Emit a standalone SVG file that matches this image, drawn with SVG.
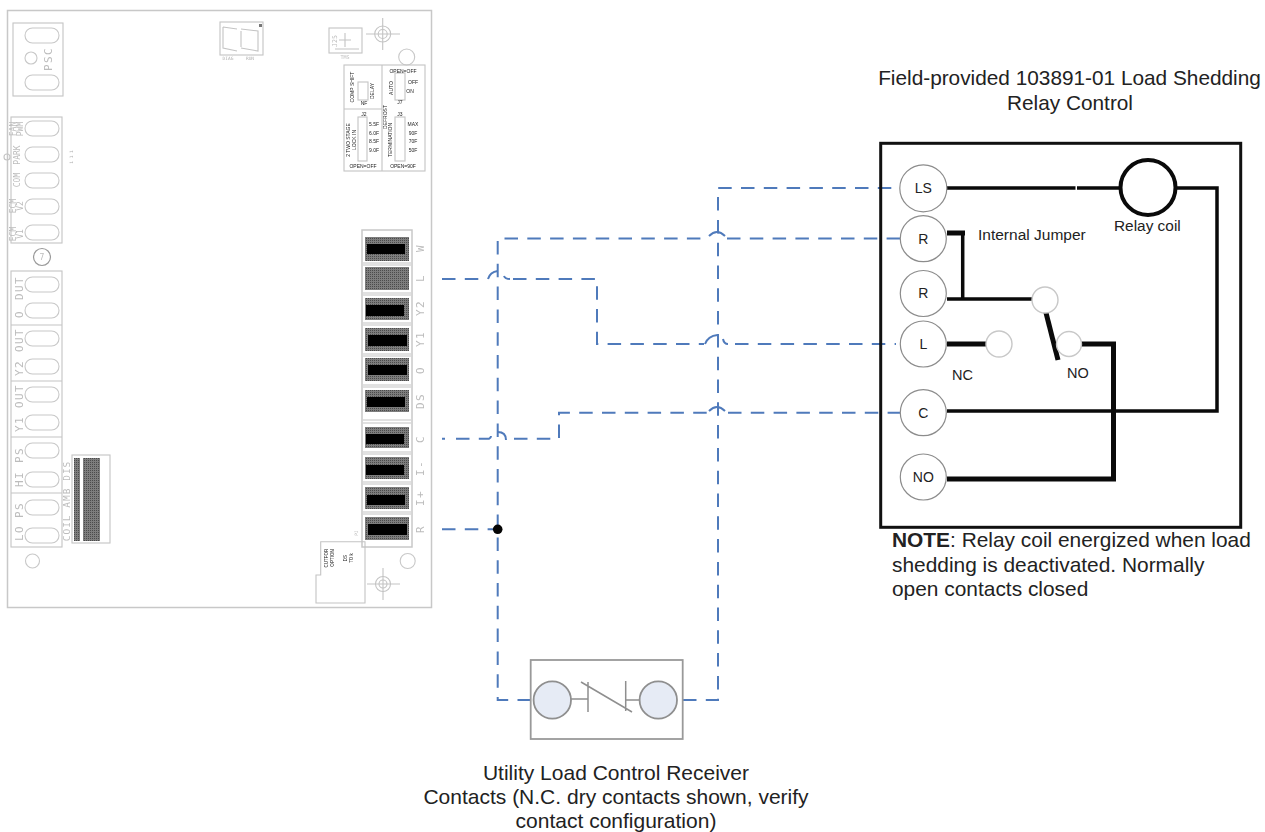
<svg xmlns="http://www.w3.org/2000/svg" width="1265" height="832" viewBox="0 0 1265 832">
<style>
text{font-family:"Liberation Sans",Arial,sans-serif;fill:#222}
.b{fill:none;stroke:#c4c4c4;stroke-width:1.1}
.b2{fill:#fff;stroke:#c8c8c8;stroke-width:1.5}
.p{fill:#fff;stroke:#c8c8c8;stroke-width:1.1}
.c{font-family:"DejaVu Sans Mono","Liberation Mono",monospace;fill:#bcbcbc;text-anchor:middle}
.l{font-size:11px;letter-spacing:1.3px}
.m{font-size:8px}
.t{font-size:4.5px;fill:#b0b0b0}
.d{fill:url(#h)}
.k{fill:#060606}
.w{fill:none;stroke:#4f7abb;stroke-width:2;stroke-dasharray:13.5 9.3}
.s{fill:none;stroke:#4f7abb;stroke-width:2}
.e{fill:none;stroke:#0a0a0a;stroke-width:3.5;stroke-linejoin:miter}
.e5{fill:none;stroke:#0a0a0a;stroke-width:5}
.n{fill:#fff;stroke:#8c8c8c;stroke-width:1.2}
.q{fill:#fff;stroke:#c8c8c8;stroke-width:1.4}
.u{fill:#e6ebf5;stroke:#8f8f8f;stroke-width:1.8}
.g{fill:none;stroke:#8f8f8f;stroke-width:1.5}
.x{font-size:14px;text-anchor:middle}
</style>
<defs>
<pattern id="h" width="2" height="2" patternUnits="userSpaceOnUse"><rect width="2" height="2" fill="#7d7d7d"/><rect width="1" height="1" fill="#4c4c4c"/></pattern>
<filter id="bl" x="-2%" y="-2%" width="104%" height="104%"><feGaussianBlur stdDeviation="0.35"/></filter>
</defs>
<g id="control-board" filter="url(#bl)">
<rect class="b2" x="7.5" y="10.5" width="424" height="597"/>
<g id="psc">
<rect class="b" x="13" y="23" width="50" height="73"/>
<rect class="p" x="25" y="28" width="34" height="15" rx="7.5"/><rect class="p" x="25" y="75" width="34" height="15" rx="7.5"/>
<circle class="p" cx="31" cy="58" r="6"/>
<text class="c l" transform="translate(52 59) rotate(-90)">PSC</text>
</g>
<g id="upper-quick-connects">
<rect class="b" x="11" y="117" width="51" height="126"/>
<rect class="p" x="25" y="121" width="34" height="15" rx="7.5"/><rect class="p" x="25" y="147" width="34" height="15" rx="7.5"/><rect class="p" x="25" y="173" width="34" height="15" rx="7.5"/><rect class="p" x="25" y="199" width="34" height="15" rx="7.5"/><rect class="p" x="25" y="225" width="34" height="15" rx="7.5"/>
<text class="c m" transform="translate(16 129) rotate(-90)">FAN</text><text class="c m" transform="translate(23 129) rotate(-90)">PWM</text>
<text class="c m" transform="translate(20 155) rotate(-90)">PARK</text>
<text class="c m" transform="translate(20 180) rotate(-90)">COM</text>
<text class="c m" transform="translate(16 206) rotate(-90)">ECM</text><text class="c m" transform="translate(23 206) rotate(-90)">V2</text>
<text class="c m" transform="translate(16 234) rotate(-90)">ECM</text><text class="c m" transform="translate(23 234) rotate(-90)">V1</text>
<circle class="b" cx="7" cy="157" r="3"/>
<text class="c t" transform="translate(73 157) rotate(-90)">1 1 1</text>
</g>
<circle fill="none" stroke="#999" stroke-width="1.2" cx="42" cy="257" r="8.5"/>
<text class="c" font-size="8" x="42" y="260">7</text>
<g id="lower-quick-connects">
<rect class="b" x="11" y="271" width="51" height="276"/>
<path class="b" d="M11 325H62M11 381H62M11 437H62M11 493H62"/>
<rect class="p" x="25" y="277" width="34" height="15" rx="7.5"/><rect class="p" x="25" y="303" width="34" height="15" rx="7.5"/><rect class="p" x="25" y="331" width="34" height="15" rx="7.5"/><rect class="p" x="25" y="359" width="34" height="15" rx="7.5"/><rect class="p" x="25" y="387" width="34" height="15" rx="7.5"/><rect class="p" x="25" y="415" width="34" height="15" rx="7.5"/><rect class="p" x="25" y="443" width="34" height="15" rx="7.5"/><rect class="p" x="25" y="472" width="34" height="15" rx="7.5"/><rect class="p" x="25" y="500" width="34" height="15" rx="7.5"/><rect class="p" x="25" y="528" width="34" height="15" rx="7.5"/>
<text class="c l" transform="translate(23 288) rotate(-90)">DUT</text>
<text class="c l" transform="translate(23 314) rotate(-90)">O</text>
<text class="c l" transform="translate(23 340) rotate(-90)">OUT</text>
<text class="c l" transform="translate(23 368) rotate(-90)">Y2</text>
<text class="c l" transform="translate(23 396) rotate(-90)">OUT</text>
<text class="c l" transform="translate(23 424) rotate(-90)">Y1</text>
<text class="c l" transform="translate(23 455) rotate(-90)">PS</text>
<text class="c l" transform="translate(23 479) rotate(-90)">HI</text>
<text class="c l" transform="translate(23 510) rotate(-90)">PS</text>
<text class="c l" transform="translate(23 533) rotate(-90)">LO</text>
</g>
<g id="coil-amb">
<rect class="b" x="72" y="455" width="38" height="88"/>
<rect class="d" x="74" y="458" width="6" height="83"/><rect class="d" x="83" y="458" width="17" height="83"/>
<text class="c" font-size="9.5" letter-spacing="1" transform="translate(70 501) rotate(-90)">COIL AMB DIS</text>
</g>
<circle class="p" cx="32.5" cy="561" r="7"/>
<g id="display">
<rect class="b" x="220" y="22" width="43" height="33"/>
<path class="b" d="M223 27L237 29M223 27V48L237 51M241 29L258 31V51L241 48M241 31V47"/>
<rect x="259" y="24" width="3" height="3" fill="#777"/>
<text class="c t" x="228" y="60">DIAG</text><text class="c t" x="250" y="60">RUN</text>
</g>
<g id="tms">
<rect class="b" x="329" y="28" width="33" height="25"/>
<path class="b" d="M345 33V47M339 40H351M335 49H359"/>
<text class="c" font-size="6.5" transform="translate(337 41) rotate(-90)">J25</text>
<text class="c" font-size="5" x="345" y="59">TMS</text>
</g>
<g id="mount-top"><circle class="b" cx="382.7" cy="34" r="8"/><circle class="b" cx="382.7" cy="34" r="4.5"/><path class="b" d="M382.7 18V50M366 34H400"/></g>
<circle class="p" cx="406.7" cy="57" r="8"/>
<g id="jumper-block">
<rect class="b" x="344" y="65" width="81" height="106"/>
<path class="b" d="M382 65V171M344 109H382"/>
<rect class="b" x="358" y="82" width="10" height="18"/><rect class="b" x="395" y="73" width="10" height="27"/><rect class="b" x="358" y="117" width="9" height="44"/><rect class="b" x="395" y="117" width="10" height="44"/>
<g class="c" font-size="5">
<text transform="translate(354 87) rotate(-90)">COMP SHIFT</text>
<text transform="translate(374 91) rotate(-90)">DELAY</text>
<text x="364" y="105">NF</text>
<text x="403" y="73">OPEN=OFF</text>
<text transform="translate(393 88) rotate(-90)">AUTO</text>
<text x="413" y="84">OFF</text><text x="410" y="93">ON</text>
<text x="400" y="104">J7</text>
<text transform="translate(387 117) rotate(-90)">DEFROST</text>
<text x="364" y="116">J2</text><text x="400" y="116">J3</text>
<text transform="translate(350 140) rotate(-90)">2 TWO STAGE</text>
<text transform="translate(356 140) rotate(-90)">LOCK IN</text>
<text transform="translate(392 140) rotate(-90)">TERMINATION</text>
<text x="374" y="126">5.5F</text><text x="374" y="135">6.0F</text><text x="374" y="143">8.5F</text><text x="374" y="152">9.0F</text>
<text x="413" y="126">MAX</text><text x="413" y="135">90F</text><text x="413" y="143">70F</text><text x="413" y="152">50F</text>
<text x="363" y="168">OPEN=OFF</text><text x="403" y="168">OPEN=90F</text>
</g>
</g>
<g id="terminal-strip">
<rect class="b2" x="362" y="230" width="50" height="317"/>
<path class="b" d="M363 263H411M363 265H411M363 293H411M363 295H411M363 323H411M363 325H411M363 354H411M363 356H411M363 385H411M363 387H411M363 420H411M363 423H411M363 452H411M363 454H411M363 482H411M363 484H411M363 512H411M363 514H411"/>
<rect class="d" x="365" y="237" width="44" height="24"/><rect class="k" x="367" y="244" width="38" height="10"/>
<rect class="d" x="365" y="267" width="44" height="23"/>
<rect class="d" x="365" y="298" width="44" height="22"/><rect class="k" x="366" y="305" width="38" height="11"/>
<rect class="d" x="365" y="328" width="44" height="23"/><rect class="k" x="368" y="335" width="39" height="11"/>
<rect class="d" x="365" y="358" width="44" height="23"/><rect class="k" x="368" y="365" width="39" height="10"/>
<rect class="d" x="365" y="390" width="44" height="22"/><rect class="k" x="367" y="397" width="38" height="10"/>
<rect class="d" x="365" y="427" width="44" height="21"/><rect class="k" x="366" y="434" width="38" height="10"/>
<rect class="d" x="365" y="457" width="44" height="22"/><rect class="k" x="366" y="465" width="38" height="10"/>
<rect class="d" x="365" y="487" width="44" height="22"/><rect class="k" x="367" y="495" width="38" height="10"/>
<rect class="d" x="365" y="517" width="44" height="23"/><rect class="k" x="368" y="524" width="39" height="11"/>
<text class="c l" transform="translate(424 248) rotate(-90)">W</text>
<text class="c l" transform="translate(424 278) rotate(-90)">L</text>
<text class="c l" transform="translate(424 308) rotate(-90)">Y2</text>
<text class="c l" transform="translate(424 339) rotate(-90)">Y1</text>
<text class="c l" transform="translate(424 370) rotate(-90)">O</text>
<text class="c l" transform="translate(424 401) rotate(-90)">DS</text>
<text class="c l" transform="translate(424 439) rotate(-90)">C</text>
<text class="c l" transform="translate(424 468) rotate(-90)">I-</text>
<text class="c l" transform="translate(424 498) rotate(-90)">I+</text>
<text class="c l" transform="translate(424 529) rotate(-90)">R</text>
<text class="c t" transform="translate(358 533) rotate(-90)">PJ</text>
</g>
<g id="cutout">
<path class="b" fill="none" d="M320.7 541.7H365V603H316V575H320.7Z"/>
<g class="c t"><text transform="translate(328 558) rotate(-90)">CUTFOR</text><text transform="translate(334 558) rotate(-90)">OPTION</text><text transform="translate(347 558) rotate(-90)">DS</text><text transform="translate(353 558) rotate(-90)">TO k</text></g>
</g>
<circle class="p" cx="407.7" cy="561" r="7.5"/>
<g id="mount-bottom"><circle class="b" cx="383" cy="584" r="7.5"/><circle class="b" cx="383" cy="584" r="4"/><path class="b" d="M383 568V600M367 584H400"/></g>
</g>
<g id="connectors">
<path class="w" d="M683 700H718V188H896"/>
<path class="w" d="M531 700H497.7V238.5H707"/>
<path class="s" d="M709 236Q717 228 725 236"/>
<path class="w" d="M727 238.5H900"/>
<path class="w" d="M442 529.3H497"/>
<path class="w" d="M442 279H486"/>
<path class="s" d="M488 279Q490 272 497.7 271M504 276Q505 279 510 279"/>
<path class="w" d="M513 279H597V344H704"/>
<path class="s" d="M705 344Q708 336 717.5 335M723 339Q724 344 728 344"/>
<path class="w" d="M735 344H896"/>
<path class="w" d="M442 438.7H445M456 438.7H486"/>
<path class="s" d="M486 438.7H489Q491 438 491 436M497.7 432Q506 432 506 440"/>
<path class="w" d="M514 438.7H559V412.7H707"/>
<path class="s" d="M709 411Q717 403 725 411"/>
<path class="w" d="M728 412.7H900"/>
<circle cx="497.7" cy="529.3" r="4.8" fill="#050505"/>
<path class="e" d="M947 188H1075.5M1077 188H1120M1176 188H1217V411H947"/>
<path class="e" d="M962.7 233V299M947 299H1033"/>
<path class="e5" d="M947 233H965"/>
<path class="e5" d="M947 344H988"/>
<path class="e5" d="M1045.7 311.7L1058 360"/>
<path class="e5" d="M1081 344H1113.5V479H947"/>
</g>
<g id="relay-box"><rect x="880.7" y="143.3" width="360" height="384" fill="none" stroke="#111" stroke-width="3"/></g>
<g id="terminal-LS"><circle class="n" cx="923.3" cy="188.3" r="23.5"/><text class="x" x="923.3" y="193">LS</text></g>
<g id="terminal-R1"><circle class="n" cx="923.3" cy="238.7" r="23"/><text class="x" x="923.3" y="243.5">R</text></g>
<g id="terminal-R2"><circle class="n" cx="923.3" cy="293.5" r="23"/><text class="x" x="923.3" y="298">R</text></g>
<g id="terminal-L"><circle class="n" cx="923.3" cy="344" r="23"/><text class="x" x="923.3" y="349">L</text></g>
<g id="terminal-C"><circle class="n" cx="923.3" cy="412.7" r="23"/><text class="x" x="923.3" y="417.5">C</text></g>
<g id="terminal-NO"><circle class="n" cx="923.3" cy="477" r="23"/><text class="x" x="923.3" y="481.5">NO</text></g>
<g id="relay-coil"><circle cx="1148" cy="187.5" r="27.5" fill="#fff" stroke="#0a0a0a" stroke-width="4"/><text font-size="15.4" x="1114" y="231">Relay coil</text></g>
<g id="contact-common"><circle class="q" cx="1045" cy="300" r="13"/></g>
<g id="contact-nc"><circle class="q" cx="999" cy="344" r="13"/><text font-size="14.5" x="952" y="380">NC</text></g>
<g id="contact-no"><circle class="q" cx="1069" cy="344" r="12.5"/><text font-size="14.5" x="1067" y="378">NO</text></g>
<g id="jumper-label"><text font-size="15.5" x="978" y="240">Internal Jumper</text></g>
<g id="relay-title"><text font-size="20.8" x="1069.5" y="85" text-anchor="middle">Field-provided 103891-01 Load Shedding</text><text font-size="20.8" x="1070" y="110" text-anchor="middle">Relay Control</text></g>
<g id="note"><text font-size="20.9" x="892" y="547"><tspan font-weight="bold">NOTE</tspan>: Relay coil energized when load</text><text font-size="20.9" x="892" y="572">shedding is deactivated. Normally</text><text font-size="20.9" x="892" y="596">open contacts closed</text></g>
<g id="receiver">
<rect x="530.7" y="660" width="152" height="79" fill="#fff" stroke="#999" stroke-width="1.8"/>
<circle class="u" cx="552.3" cy="700" r="18.7"/><circle class="u" cx="658.3" cy="700" r="18.7"/>
<path class="g" d="M571 699H588M588 682V712M581 682L632 712M625.7 681V711M626 700H639"/>
</g>
<g id="receiver-label"><text font-size="21" x="616" y="780" text-anchor="middle">Utility Load Control Receiver</text><text font-size="21" x="616" y="804" text-anchor="middle">Contacts (N.C. dry contacts shown, verify</text><text font-size="21" x="616" y="828" text-anchor="middle">contact configuration)</text></g>
</svg>
